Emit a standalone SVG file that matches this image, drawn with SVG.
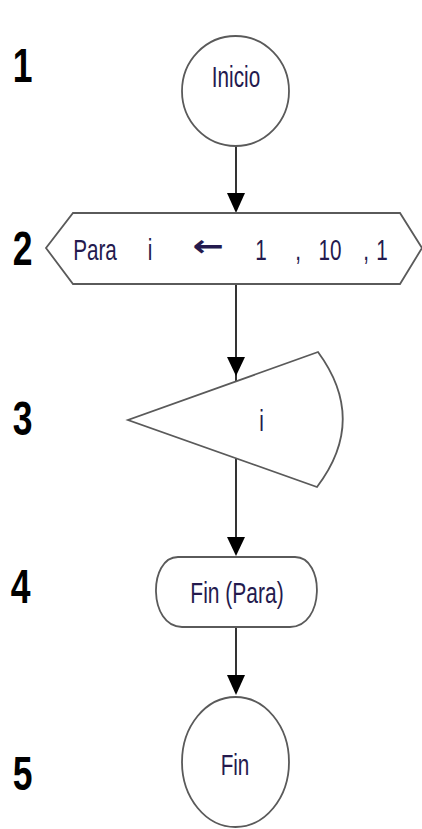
<svg xmlns="http://www.w3.org/2000/svg" width="422" height="829" viewBox="0 0 422 829">
<style>
.shape{fill:#fff;stroke:#5a5a5a;stroke-width:1.8}
.lbl{font-family:"Liberation Sans",Arial,sans-serif;font-size:30px;fill:#241a4e;text-anchor:middle}
.num{font-family:"Liberation Sans",Arial,sans-serif;font-weight:bold;font-size:48px;fill:#000;text-anchor:middle}
.edge{stroke:#000;stroke-width:1.6;fill:none}
.head{fill:#000}
</style>
<rect width="422" height="829" fill="#fff"/>
<g id="steps">
<text class="num" transform="translate(22.5,82) scale(0.74,1)">1</text>
<text class="num" transform="translate(22.5,265) scale(0.74,1)">2</text>
<text class="num" transform="translate(22.5,435) scale(0.74,1)">3</text>
<text class="num" transform="translate(20.5,603) scale(0.74,1)">4</text>
<text class="num" transform="translate(22.5,790) scale(0.74,1)">5</text>
</g>
<g id="connectors">
<line class="edge" x1="236" y1="146" x2="236" y2="198"/>
<polygon class="head" points="227,193 245,193 236,213"/>
<line class="edge" x1="236" y1="284" x2="236" y2="382"/>
<polygon class="head" points="227,357 245,357 236,376"/>
<line class="edge" x1="236" y1="458" x2="236" y2="545"/>
<polygon class="head" points="227,537 245,537 236,556"/>
<line class="edge" x1="236" y1="627" x2="236" y2="680"/>
<polygon class="head" points="227,675 245,675 236,695"/>
</g>
<g id="n1">
<ellipse class="shape" cx="235.5" cy="91" rx="53.5" ry="55"/>
<text class="lbl" transform="translate(236,87) scale(0.69,1)">Inicio</text>
</g>
<g id="n2">
<polygon class="shape" points="73,213 400,213 422,248 400,284 73,284 46,248"/>
<text class="lbl" transform="translate(95,260) scale(0.69,1)">Para</text>
<text class="lbl" transform="translate(150,260) scale(0.69,1)">i</text>
<text class="lbl" style="font-family:'DejaVu Sans',sans-serif;font-weight:bold" transform="translate(208.5,256) scale(1.25,1)">←</text>
<text class="lbl" transform="translate(261,260) scale(0.69,1)">1</text>
<text class="lbl" transform="translate(298,260) scale(0.69,1)">,</text>
<text class="lbl" transform="translate(330,260) scale(0.69,1)">10</text>
<text class="lbl" transform="translate(366,260) scale(0.69,1)">,</text>
<text class="lbl" transform="translate(382,260) scale(0.69,1)">1</text>
</g>
<g id="n3">
<path class="shape" d="M318,352 L128,420 L317,487 Q368,420 318,352 Z"/>
<text class="lbl" transform="translate(261.5,431) scale(0.69,1)">i</text>
</g>
<g id="n4">
<path class="shape" d="M178,557 H295 C325,557 325,627 290,627 H182 C148,627 148,557 178,557 Z"/>
<text class="lbl" transform="translate(237,603) scale(0.7,1)">Fin (Para)</text>
</g>
<g id="n5">
<ellipse class="shape" cx="235.5" cy="762" rx="53.5" ry="65"/>
<text class="lbl" transform="translate(235,775) scale(0.69,1)">Fin</text>
</g>
</svg>
